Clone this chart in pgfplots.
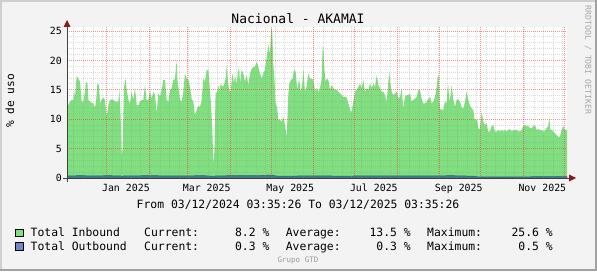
\documentclass[border=0pt]{standalone}
\usepackage{fontspec}
\setmainfont{DejaVu Sans Mono}
\usepackage{pgfplots}
\usepackage{pgfplotstable}
\pgfplotsset{compat=1.18}
\definecolor{bg}{HTML}{F3F3F3}
\definecolor{frameL}{HTML}{CFCFCF}
\definecolor{frameD}{HTML}{A2A2A2}
\definecolor{inb}{HTML}{80E080}
\definecolor{outb}{HTML}{7088C8}
\definecolor{outstrip}{HTML}{3A7F86}
\definecolor{outdark}{HTML}{2F5F7F}
\definecolor{mgrid}{HTML}{FF3030}
\definecolor{mingrid}{HTML}{909090}
\definecolor{arrowred}{HTML}{8B1A1A}
\definecolor{axisc}{HTML}{404040}

\pgfplotstableread{
day val
0 12.0
2.2 13.0
3.4 13.3
4.6 13.3
5.1 15.0
5.8 13.7
7.1 17.4
8.3 16.9
9.5 16.4
10.7 13.0
11.9 13.0
13.1 14.7
13.9 16.4
14.9 16.1
15.6 13.3
16.8 13.0
18.0 12.8
19.2 12.7
20.4 12.0
21.2 13.0
22.2 16.1
23.4 15.8
24.1 12.7
25.3 13.3
26.5 13.7
27.7 13.3
29.0 10.4
30.2 12.4
31.4 13.3
32.6 13.4
33.8 13.3
35.0 13.0
36.3 13.0
37.5 13.0
38.2 15.1
39.2 10.1
39.9 3.6
40.6 5.0
41.6 15.5
42.8 16.9
43.6 15.0
44.8 13.3
46.0 12.7
47.2 14.7
48.4 13.3
49.6 15.3
50.9 12.4
52.1 12.4
53.3 13.0
54.5 13.3
55.7 13.3
56.9 15.8
58.1 13.3
59.4 13.3
60.6 14.7
61.8 13.5
63.0 14.7
64.2 14.1
65.5 11.0
66.7 14.4
67.9 13.8
69.1 15.0
70.3 16.7
71.5 16.7
72.7 13.3
74.0 13.0
75.2 15.0
76.4 15.3
77.6 16.7
78.8 16.8
80.0 20.1
80.5 16.9
81.3 15.5
82.5 13.3
83.7 13.0
84.9 14.7
86.1 17.8
87.4 16.9
88.6 16.7
89.8 15.5
91.0 13.5
92.2 13.0
93.4 10.7
94.7 11.6
95.9 12.3
97.1 12.1
98.3 13.3
99.5 16.9
100.7 16.4
102.0 18.4
103.2 18.4
103.9 16.1
105.1 12.7
106.1 8.2
106.8 2.5
107.6 4.5
108.5 14.7
109.3 14.4
110.5 15.8
111.2 14.7
112.2 16.1
113.4 15.5
114.6 15.8
115.8 16.9
116.6 19.2
117.3 16.9
118.3 15.0
119.5 14.7
120.7 17.8
121.9 16.1
122.6 17.5
123.9 15.8
124.6 17.8
125.6 18.9
126.3 16.1
127.5 18.4
128.7 17.8
129.9 16.4
131.2 17.5
132.4 15.8
133.6 17.8
134.8 18.6
136.0 18.9
137.2 18.9
138.5 19.8
139.7 18.9
140.9 17.8
142.1 16.9
143.3 17.8
144.5 18.4
145.8 20.6
147.0 22.6
148.2 21.2
148.9 24.9
149.4 25.6
149.9 24.6
150.6 19.2
151.3 17.5
152.3 12.7
153.3 12.1
154.3 9.9
155.5 9.9
156.7 9.6
157.9 10.4
159.1 9.0
160.4 7.0
161.6 14.4
162.3 16.1
163.5 16.7
164.7 16.9
165.7 18.4
166.9 18.1
168.1 15.0
169.4 16.9
170.6 14.7
171.8 16.1
172.5 18.6
173.7 14.7
174.9 15.5
176.2 17.8
177.4 16.9
178.6 16.9
179.8 16.7
181.1 14.7
182.3 15.3
183.5 14.7
184.7 15.3
185.9 16.9
186.6 22.3
187.1 22.3
187.9 18.4
188.8 16.4
189.6 16.9
190.8 16.7
192.0 15.0
193.2 15.8
194.4 15.3
195.6 15.0
196.9 15.0
198.1 14.7
199.3 14.4
200.5 14.1
201.7 13.8
202.9 13.8
204.2 13.7
205.4 12.7
206.6 11.8
207.3 11.0
208.1 11.8
209.0 13.0
210.3 14.7
211.5 15.0
212.7 15.5
213.9 16.1
215.1 15.3
216.3 16.7
217.5 14.7
218.8 15.3
220.0 15.0
221.2 16.1
222.4 15.3
223.6 16.1
224.8 15.5
226.1 17.5
227.3 15.8
228.5 15.3
229.7 14.7
230.9 14.7
232.1 14.1
233.4 13.0
234.6 16.4
235.3 18.1
236.0 16.1
237.0 14.7
238.2 14.1
239.4 14.4
240.7 14.7
241.9 13.5
243.1 13.8
244.3 15.3
245.5 11.8
246.7 13.8
248.0 14.1
249.2 14.1
250.4 14.4
251.6 13.0
252.8 13.3
254.0 13.5
255.3 13.8
256.5 15.0
257.7 15.0
258.9 13.5
260.1 12.7
261.3 12.7
262.6 13.0
263.8 13.5
265.0 13.8
266.2 12.7
267.4 13.0
268.6 13.8
269.9 15.5
270.6 17.2
271.5 17.5
272.2 11.8
273.5 11.6
274.7 11.6
275.9 13.0
277.1 12.7
277.8 15.0
278.3 15.8
279.1 13.0
280.0 14.1
280.8 15.8
282.0 13.3
283.2 12.1
284.4 13.3
285.6 13.4
286.8 13.0
288.1 12.1
289.3 11.8
290.5 13.0
291.7 14.7
292.9 13.3
294.1 12.4
295.4 11.8
296.6 11.6
297.3 10.1
298.3 9.9
299.5 9.9
300.2 8.5
301.4 8.2
302.7 11.3
303.9 9.6
305.1 9.0
306.3 9.3
307.5 7.9
308.7 7.9
310.0 8.8
311.2 9.0
312.4 7.9
313.6 7.9
314.8 8.2
316.0 7.9
317.3 8.2
318.5 7.9
319.7 8.2
320.9 7.9
322.1 8.2
323.3 8.3
324.6 7.9
325.8 8.2
327.0 8.1
328.2 8.2
329.4 8.0
330.6 7.9
331.9 8.2
333.1 8.8
334.3 9.0
335.5 8.8
336.7 8.9
337.9 8.5
339.2 8.5
340.4 8.8
341.6 9.0
342.8 8.2
344.0 8.3
345.2 8.2
346.5 8.2
347.7 7.9
348.9 8.1
350.1 8.5
351.3 8.8
352.1 10.4
352.8 8.2
353.8 8.2
355.0 7.9
356.2 7.6
357.4 7.3
358.6 7.0
359.8 7.0
361.1 8.2
362.3 8.8
363.5 8.2
365.0 8.2
}\inbtable

\pgfplotstableread{
day val
0 0.35
10 0.40
20 0.35
30 0.40
39.5 0.35
40 0.15
41 0.35
60 0.40
80 0.35
100 0.40
106.5 0.30
107 0.10
108 0.35
120 0.40
140 0.40
148 0.50
150 0.50
152 0.35
160 0.30
170 0.35
190 0.35
207 0.30
208 0.15
209 0.35
230 0.35
250 0.35
270 0.35
280 0.40
290 0.35
297 0.30
300 0.20
330 0.20
365 0.25
}\outbtable

\begin{document}
\begin{tikzpicture}[x=1pt,y=1pt]
\fill[bg] (0,0) rectangle (597,271);
\fill[frameL] (0,0) rectangle (2,271);
\fill[frameL] (0,269) rectangle (597,271);
\fill[frameD] (595,0) rectangle (597,271);
\fill[frameD] (0,0) rectangle (597,2.5);
\useasboundingbox (0,0) rectangle (597,271);

\begin{axis}[
  at={(67pt,93pt)}, anchor=south west,
  scale only axis, width=500pt, height=151pt,
  xmin=0, xmax=365, ymin=0, ymax=25.7,
  axis line style={draw=none},
  axis background/.style={fill=white},
  axis on top,
  major tick length=0pt, minor tick length=0pt,
  xtick={29,60,88,119,149,180,210,241,272,302,333,363},
  xticklabels={},
  minor xtick={5,12,...,362},
  ytick={0,5,10,15,20,25},
  minor ytick={1,2,3,4,6,7,8,9,11,12,13,14,16,17,18,19,21,22,23,24},
  extra x ticks={43,102,163,224,286,347},
  extra x tick labels={Jan 2025,Mar 2025,May 2025,Jul 2025,Sep 2025,Nov 2025},
  extra x tick style={grid=none, major tick length=0pt},
  grid=both,
  major grid style={mgrid, opacity=0.55, line width=1pt, dash pattern=on 1pt off 1pt},
  minor grid style={mingrid, opacity=0.32, line width=1pt, dash pattern=on 1pt off 1pt},
  ticklabel style={font=\fontsize{9.9}{11}\selectfont, text=black},
  /pgf/number format/assume math mode=true,
  xticklabel style={anchor=base, yshift=-13pt},
  yticklabel style={anchor=east, inner sep=0pt, xshift=-5pt},
  clip=true,
]
\addplot[draw=none, fill=inb] table[x=day,y=val] {\inbtable} \closedcycle;
\addplot[draw=outdark, line width=0.5pt, fill=outstrip] table[x=day,y=val] {\outbtable} \closedcycle;
\end{axis}

% axis lines with arrows
\draw[axisc, line width=1pt] (63,93) -- (570,93);
\fill[arrowred] (569,96.5) -- (576,93) -- (569,89.5) -- cycle;
\draw[axisc, line width=1pt] (67,89) -- (67,244);
\fill[arrowred] (63.5,244) -- (67,251) -- (70.5,244) -- cycle;

% title
\node[anchor=base, font=\fontsize{13}{15}\selectfont] at (298,247) {Nacional - AKAMAI};
% y label
\node[rotate=90, anchor=base, font=\fontsize{11.2}{13}\selectfont] at (14,170) {\% de uso};
% right vertical
\node[rotate=-90, font=\fontsize{8.2}{10}\selectfont, text=black!35] at (588,211) {RRDTOOL / TOBI OETIKER};
% from line
\node[anchor=base, font=\fontsize{11.4}{13}\selectfont] at (298,63) {From 03/12/2024 03:35:26 To 03/12/2025 03:35:26};

% legend
\begin{scope}[font=\fontsize{11.4}{13}\selectfont]
\filldraw[fill=inb, draw=black, line width=0.8pt] (15.5,34.5) rectangle (23,42);
\filldraw[fill=outb, draw=black, line width=0.8pt] (15.5,21) rectangle (23,28.5);
\node[anchor=base west, inner sep=0pt] at (30.5,34.5) {Total Inbound};
\node[anchor=base west, inner sep=0pt] at (144,34.5) {Current:};
\node[anchor=base east, inner sep=0pt] at (269.6,34.5) {8.2 \%};
\node[anchor=base west, inner sep=0pt] at (285.6,34.5) {Average:};
\node[anchor=base east, inner sep=0pt] at (411,34.5) {13.5 \%};
\node[anchor=base west, inner sep=0pt] at (427,34.5) {Maximum:};
\node[anchor=base east, inner sep=0pt] at (553,34.5) {25.6 \%};
\node[anchor=base west, inner sep=0pt] at (30.5,21) {Total Outbound};
\node[anchor=base west, inner sep=0pt] at (144,21) {Current:};
\node[anchor=base east, inner sep=0pt] at (269.6,21) {0.3 \%};
\node[anchor=base west, inner sep=0pt] at (285.6,21) {Average:};
\node[anchor=base east, inner sep=0pt] at (411,21) {0.3 \%};
\node[anchor=base west, inner sep=0pt] at (427,21) {Maximum:};
\node[anchor=base east, inner sep=0pt] at (553,21) {0.5 \%};
\end{scope}
\node[font=\fontsize{7.5}{9}\selectfont, text=black!40] at (298,11) {Grupo GTD};
\end{tikzpicture}
\end{document}
